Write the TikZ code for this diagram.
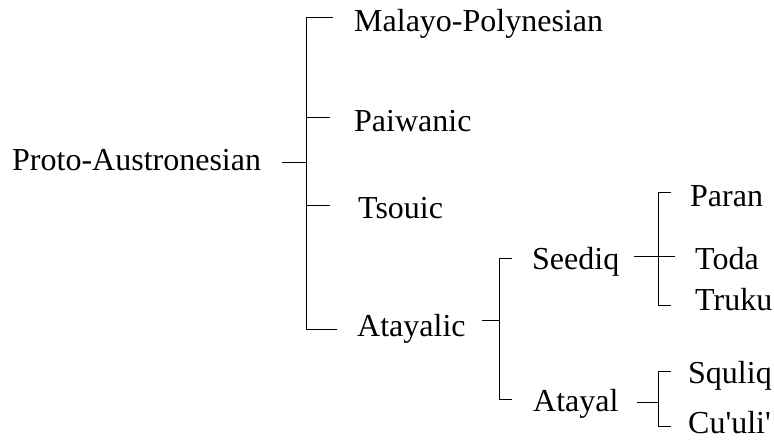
\documentclass[tikz,border=0pt]{standalone}
\usepackage{fontspec}
\setmainfont{Liberation Serif}
\usetikzlibrary{positioning}

\tikzset{
    lang/.style={anchor=base west, inner sep=0pt, font=\fontsize{32}{36}\selectfont},
    branch/.style={line width=0.9pt, line cap=rect},
}

\begin{document}
\begin{tikzpicture}[x=1pt, y=-1pt]
    \useasboundingbox (0,0) rectangle (774,446);

    % language names
    \node[lang] (proto)    at (12,171)  {Proto-Austronesian};
    \node[lang] (malpol)   at (354,32)  {Malayo-Polynesian};
    \node[lang] (paiwan)   at (354,132) {Paiwanic};
    \node[lang] (tsou)     at (358,219) {Tsouic};
    \node[lang] (atayalic) at (357,337) {Atayalic};
    \node[lang] (seediq)   at (532,270) {Seediq};
    \node[lang] (atayal)   at (533,411) {Atayal};
    \node[lang] (paran)    at (690,207) {Paran};
    \node[lang] (toda)     at (695,270) {Toda};
    \node[lang] (truku)    at (695,311) {Truku};
    \node[lang] (squliq)   at (688,383) {Squliq};
    \node[lang] (cuuli)    at (688,433) {Cu\textquotesingle uli\textquotesingle};

    % Proto-Austronesian split
    \coordinate (pRoot) at (282,162);  \coordinate (pMid)  at (306,162);
    \coordinate (pTop)  at (306,17);   \coordinate (pBot)  at (306,329);
    \coordinate (tMal)  at (333,17);   \coordinate (tPai)  at (330,117);
    \coordinate (tTso)  at (330,205);  \coordinate (tAta)  at (337,329);
    \draw[branch] (pRoot) -- (pMid);
    \draw[branch] (tMal) -- (pTop) -- (pBot) -- (tAta);
    \draw[branch] (pTop |- tPai) -- (tPai);
    \draw[branch] (pTop |- tTso) -- (tTso);

    % Atayalic split
    \coordinate (aRoot) at (482,320);  \coordinate (aMid)  at (499,320);
    \coordinate (aTop)  at (499,258);  \coordinate (aBot)  at (499,399);
    \coordinate (tSee)  at (512,258);  \coordinate (tAty)  at (512,399);
    \draw[branch] (aRoot) -- (aMid);
    \draw[branch] (tSee) -- (aTop) -- (aBot) -- (tAty);

    % Seediq split
    \coordinate (sRoot) at (634,256);  \coordinate (tTod)  at (675,256);
    \coordinate (sTop)  at (658,192);  \coordinate (sBot)  at (658,305);
    \coordinate (tPar)  at (671,192);  \coordinate (tTru)  at (671,305);
    \draw[branch] (sRoot) -- (tTod);
    \draw[branch] (tPar) -- (sTop) -- (sBot) -- (tTru);

    % Atayal split
    \coordinate (yRoot) at (637,402);  \coordinate (yMid)  at (658,402);
    \coordinate (yTop)  at (658,371);  \coordinate (yBot)  at (658,426);
    \coordinate (tSqu)  at (671,371);  \coordinate (tCuu)  at (671,426);
    \draw[branch] (yRoot) -- (yMid);
    \draw[branch] (tSqu) -- (yTop) -- (yBot) -- (tCuu);
\end{tikzpicture}
\end{document}
